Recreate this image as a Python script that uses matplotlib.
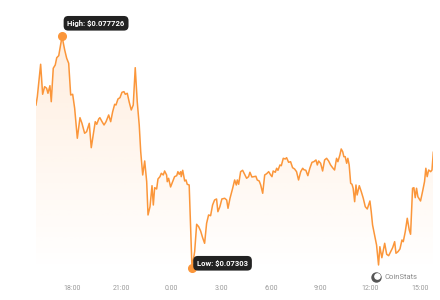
import numpy as np
import matplotlib
matplotlib.use("Agg")
import matplotlib.pyplot as plt
from matplotlib.lines import Line2D

# hours since midnight of the first day, price in USD
hours = [
    15.85, 15.93, 16.13, 16.25, 16.37, 16.49, 16.57, 16.69, 16.77, 16.89, 17.01, 17.10, 17.22, 17.42,
    17.58, 17.70, 17.82, 17.94, 18.06, 18.18, 18.34, 18.50, 18.62, 18.78, 18.90, 19.06, 19.18, 19.30,
    19.42, 19.51, 19.63, 19.70, 19.83, 19.95, 20.07, 20.23, 20.35, 20.47, 20.59, 20.67, 20.79, 20.91,
    21.03, 21.15, 21.23, 21.35, 21.47, 21.59, 21.71, 21.83, 21.95, 22.07, 22.16, 22.28, 22.40, 22.52,
    22.60, 22.72, 22.84, 22.92, 23.00, 23.12, 23.20, 23.32, 23.40, 23.52, 23.60, 23.72, 23.76, 23.84,
    23.96, 24.08, 24.20, 24.33, 24.40, 24.48, 24.57, 24.60, 24.69, 24.81, 24.89, 24.96, 25.08, 25.25,
    25.41, 25.53, 25.65, 25.77, 25.89, 26.01, 26.13, 26.25, 26.37, 26.49, 26.61, 26.73, 26.81, 26.93,
    27.05, 27.22, 27.34, 27.42, 27.54, 27.70, 27.82, 27.92, 27.98, 28.06, 28.18, 28.30, 28.42, 28.54,
    28.66, 28.74, 28.86, 28.98, 29.10, 29.18, 29.30, 29.39, 29.51, 29.63, 29.75, 29.87, 29.99, 30.07,
    30.14, 30.27, 30.35, 30.43, 30.55, 30.63, 30.75, 30.87, 30.95, 31.07, 31.19, 31.31, 31.43, 31.55,
    31.67, 31.80, 31.92, 31.99, 32.11, 32.23, 32.35, 32.48, 32.59, 32.72, 32.80, 32.88, 33.00, 33.12,
    33.24, 33.36, 33.48, 33.60, 33.72, 33.84, 33.96, 34.04, 34.16, 34.24, 34.33, 34.40, 34.48, 34.57,
    34.64, 34.72, 34.81, 34.89, 34.96, 35.05, 35.13, 35.20, 35.33, 35.45, 35.57, 35.69, 35.81, 35.89,
    35.97, 36.05, 36.13, 36.25, 36.37, 36.49, 36.57, 36.69, 36.86, 36.98, 37.10, 37.22, 37.34, 37.46,
    37.54, 37.66, 37.78, 37.90, 37.98, 38.10, 38.22, 38.34, 38.42, 38.54, 38.62, 38.70, 38.78, 38.86,
    39.02, 39.14, 39.26, 39.34, 39.42, 39.51, 39.63, 39.71, 39.79,
]
prices = [
    0.076338, 0.076506, 0.077163, 0.076555, 0.076709, 0.076677, 0.076575, 0.076729, 0.076405, 0.077082,
    0.077149, 0.077296, 0.077337, 0.077726, 0.077452, 0.077284, 0.077183, 0.076541, 0.076555, 0.076271,
    0.075664, 0.076081, 0.075967, 0.075765, 0.075797, 0.075967, 0.075473, 0.075730, 0.076000, 0.075947,
    0.076055, 0.076081, 0.076000, 0.075933, 0.076000, 0.076136, 0.076000, 0.076202, 0.076352, 0.076338,
    0.076460, 0.076486, 0.076595, 0.076608, 0.076555, 0.076575, 0.076393, 0.076237, 0.076338, 0.077094,
    0.076405, 0.075933, 0.075392, 0.074920, 0.075204, 0.074784, 0.074110, 0.074278, 0.074703, 0.074312,
    0.074663, 0.074636, 0.074839, 0.074886, 0.074954, 0.074920, 0.075001, 0.074920, 0.074784, 0.074853,
    0.074677, 0.074784, 0.074886, 0.074906, 0.074987, 0.074934, 0.074987, 0.074886, 0.075015, 0.074798,
    0.074819, 0.074732, 0.074717, 0.073030, 0.073366, 0.073921, 0.073873, 0.073785, 0.073650, 0.073536,
    0.073941, 0.074110, 0.074095, 0.074312, 0.074413, 0.074434, 0.074176, 0.074278, 0.074434, 0.074448,
    0.074413, 0.074245, 0.074448, 0.074651, 0.074819, 0.074717, 0.074819, 0.074732, 0.074987, 0.075015,
    0.074934, 0.074853, 0.074886, 0.074975, 0.074879, 0.074886, 0.074894, 0.074819, 0.074798, 0.074717,
    0.074549, 0.074920, 0.074946, 0.074987, 0.074920, 0.074886, 0.075001, 0.074975, 0.075056, 0.075015,
    0.075123, 0.075108, 0.075258, 0.075244, 0.075270, 0.075177, 0.075189, 0.075068, 0.075042, 0.074987,
    0.074819, 0.074987, 0.075056, 0.075027, 0.075015, 0.074906, 0.075056, 0.075177, 0.075189, 0.075224,
    0.075123, 0.075204, 0.075157, 0.075001, 0.075224, 0.075258, 0.075204, 0.075123, 0.075068, 0.075021,
    0.075258, 0.075189, 0.075325, 0.075447, 0.075392, 0.075291, 0.075291, 0.075157, 0.075258, 0.075123,
    0.074752, 0.074732, 0.074651, 0.074379, 0.074717, 0.074515, 0.074703, 0.074582, 0.074448, 0.074278,
    0.074231, 0.074312, 0.074393, 0.074176, 0.073907, 0.073704, 0.073502, 0.073097, 0.073467, 0.073244,
    0.073536, 0.073313, 0.073285, 0.073366, 0.073447, 0.073569, 0.073334, 0.073366, 0.073421, 0.073603,
    0.073569, 0.073771, 0.074043, 0.073806, 0.073719, 0.074651, 0.074663, 0.074460, 0.074651, 0.074480,
    0.074393, 0.074582, 0.074784, 0.075056, 0.074886, 0.075021, 0.074987, 0.075021, 0.075380,
]
tick_hours = [18, 21, 24, 27, 30, 33, 36, 39]
tick_labels = ["18:00", "21:00", "0:00", "3:00", "6:00", "9:00", "12:00", "15:00"]

plt.rcParams['font.family'] = ['Roboto', 'DejaVu Sans']

line_color = '#fb963a'
y_bottom, y_top = 0.072995, 0.078465

fig = plt.figure(figsize=(4.4, 3), dpi=100)
ax = fig.add_axes([0.0818, 0.1, 0.903, 0.9])

ax.plot(hours, prices, color=line_color, lw=1.1, zorder=3)

# gradient fill under the line
poly = ax.fill_between(hours, prices, y_bottom, color='none', lw=0)
grad = np.zeros((200, 1, 4))
grad[..., 0], grad[..., 1], grad[..., 2] = 1.0, 0.6, 0.25
grad[:, 0, 3] = np.linspace(0.17, 0.0, 200)
img = ax.imshow(grad, extent=[hours[0], hours[-1], y_bottom, max(prices)],
                aspect='auto', origin='upper', zorder=1)
img.set_clip_path(poly.get_paths()[0], transform=ax.transData)

i_hi = int(np.argmax(prices))
i_lo = int(np.argmin(prices))
ax.plot(hours[i_hi], prices[i_hi], 'o', ms=5.5, color=line_color, zorder=4, clip_on=False)
ax.plot(hours[i_lo], prices[i_lo], 'o', ms=5.5, color=line_color, zorder=4, clip_on=False)

box = dict(boxstyle='round,pad=0.5,rounding_size=0.6', fc='#222222', ec='none')
ax.annotate(f"High: ${prices[i_hi]:.6f}", (hours[i_hi], prices[i_hi]),
            xytext=(24.5, 9.5), textcoords='offset points', ha='center', va='center',
            fontsize=5.5, fontweight='bold', color='white', bbox=box, zorder=5)
ax.annotate(f"Low: ${prices[i_lo]:.5f}", (hours[i_lo], prices[i_lo]),
            xytext=(22, 3.6), textcoords='offset points', ha='center', va='center',
            fontsize=5.5, fontweight='bold', color='white', bbox=box, zorder=5,
            annotation_clip=False)

ax.set_xlim(hours[0], hours[-1])
ax.set_ylim(y_bottom, y_top)
ax.set_xticks(tick_hours, tick_labels)
ax.set_yticks([])
ax.tick_params(axis='x', length=0, labelsize=5, labelcolor='#9a9a9a', pad=10.5)
for s in ax.spines.values():
    s.set_visible(False)

# watermark
fig.add_artist(Line2D([376 / 440], [1 - 276.7 / 300], marker='o', ms=6.5, mfc='#555555',
                      mec='#555555', transform=fig.transFigure))
fig.add_artist(Line2D([377.3 / 440], [1 - 275.7 / 300], marker='o', ms=3.8, mfc='white',
                      mec='white', transform=fig.transFigure))
fig.text(384 / 440, 1 - 276.7 / 300, "CoinStats", fontsize=5.5, color='#8a8a8a',
         ha='left', va='center')

fig.savefig("out.png", dpi=100)
